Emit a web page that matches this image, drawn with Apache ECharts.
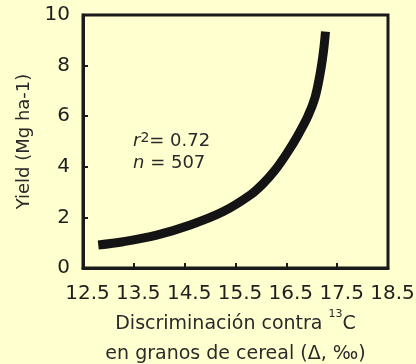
<!DOCTYPE html>
<html>
<head>
<meta charset="utf-8">
<script src="https://cdn.jsdelivr.net/npm/echarts@6/dist/echarts.min.js"></script>
<style>
  html, body { margin: 0; padding: 0; background: #FFFFD0; }
  #chart { width: 416px; height: 364px; }
</style>
</head>
<body>
<div id="chart"></div>
<script>
// Fitted yield curve against grain carbon isotope discrimination
const discrimination = [12.80, 13.29, 13.95, 14.61, 15.26, 15.80, 16.05, 16.28, 16.51, 16.72, 16.92, 17.06, 17.16, 17.23, 17.27];
const yieldValues    = [0.91, 1.04, 1.30, 1.70, 2.23, 2.90, 3.35, 3.87, 4.53, 5.22, 5.98, 6.71, 7.63, 8.55, 9.34];
const xTicks = [12.5, 13.5, 14.5, 15.5, 16.5, 17.5, 18.5];
const yTicks = [0, 2, 4, 6, 8, 10];
const statLines = ['r2', '0.72', 'n', '507'];

const font = 'DejaVu Sans';
const ink = '#1a1a1a';

const chart = echarts.init(document.getElementById('chart'), null, { renderer: 'canvas' });

chart.setOption({
  backgroundColor: '#FFFFD0',
  animation: false,
  grid: {
    left: 83, right: 28, top: 15, bottom: 96,
    containLabel: false,
    outerBoundsMode: 'none',
    show: true, borderColor: ink, borderWidth: 3, backgroundColor: 'transparent'
  },
  xAxis: {
    type: 'value',
    min: xTicks[0], max: xTicks[xTicks.length - 1], interval: 1,
    name: '{t|Discriminación contra }{s|13}{t|C}\n{t|en granos de cereal (Δ, ‰)}',
    nameLocation: 'middle',
    nameGap: 38,
    nameTextStyle: {
      color: '#2a2a2a', fontFamily: font, fontSize: 19, lineHeight: 30,
      rich: {
        t: { fontFamily: font, fontSize: 19, color: '#2a2a2a', lineHeight: 30 },
        s: { fontFamily: font, fontSize: 11, color: '#2a2a2a', verticalAlign: 'top', lineHeight: 30, padding: [0, 0, 8, 0] }
      }
    },
    axisLine: { show: true, lineStyle: { color: ink, width: 3 } },
    axisTick: { show: true, inside: true, length: 5, lineStyle: { color: ink, width: 2 } },
    splitLine: { show: false },
    axisLabel: {
      color: '#1e1e1e', fontFamily: font, fontSize: 20, margin: 16,
      padding: [0, 0, 0, 9],
      showMinLabel: true, showMaxLabel: true,
      formatter: v => v.toFixed(1)
    }
  },
  yAxis: {
    type: 'value',
    min: yTicks[0], max: yTicks[yTicks.length - 1], interval: 2,
    name: 'Yield (Mg ha-1)',
    nameLocation: 'middle',
    nameRotate: 90,
    nameGap: 47,
    nameTextStyle: { color: '#2a2a2a', fontFamily: font, fontSize: 18 },
    axisLine: { show: true, lineStyle: { color: ink, width: 3 } },
    axisTick: { show: true, inside: true, length: 5, lineStyle: { color: ink, width: 2 } },
    splitLine: { show: false },
    axisLabel: {
      color: '#1e1e1e', fontFamily: font, fontSize: 20, margin: 13,
      padding: [7, 0, 0, 0]
    }
  },
  graphic: [
    {
      type: 'text', left: 133, top: 131,
      style: {
        text: '{i|' + statLines[0][0] + '}{s|' + statLines[0][1] + '}{t|= ' + statLines[1] + '}',
        rich: {
          i: { fontFamily: font, fontStyle: 'italic', fontSize: 18, fill: '#2a2a2a' },
          s: { fontFamily: font, fontSize: 14, fill: '#2a2a2a', padding: [0, 0, 6, 0] },
          t: { fontFamily: font, fontSize: 18, fill: '#2a2a2a' }
        }
      }
    },
    {
      type: 'text', left: 133, top: 154,
      style: {
        text: '{i|' + statLines[2] + '}{t| = ' + statLines[3] + '}',
        rich: {
          i: { fontFamily: font, fontStyle: 'italic', fontSize: 18, fill: '#2a2a2a' },
          t: { fontFamily: font, fontSize: 18, fill: '#2a2a2a' }
        }
      }
    }
  ],
  series: [{
    type: 'line',
    data: discrimination.map((x, i) => [x, yieldValues[i]]),
    smooth: 0.35,
    showSymbol: false,
    lineStyle: { color: '#141414', width: 9, cap: 'butt', join: 'round' }
  }]
});
</script>
</body>
</html>
